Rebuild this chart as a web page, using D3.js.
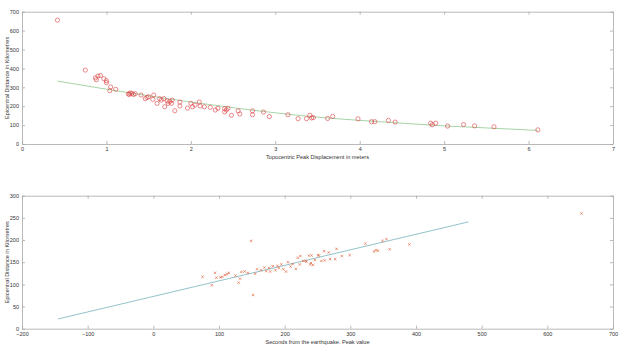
<!DOCTYPE html>
<html>
<head>
<meta charset="utf-8">
<script src="https://cdn.jsdelivr.net/npm/d3@7"></script>
<style>
  body { margin: 0; background: #fff; }
  svg text { font-family: "Liberation Sans", Arial, sans-serif; fill: #333; }
</style>
</head>
<body>
<svg id="chart" width="624" height="349"></svg>
<script>
// top plot: peak displacement (m) vs epicentral distance (km)
var dispX = [0.42, 0.75, 0.88, 0.9, 0.93, 0.87, 0.97, 1.0, 1.0, 1.05, 1.04, 1.11,
  1.26, 1.28, 1.3, 1.32, 1.34, 1.27, 1.41, 1.46, 1.48, 1.5, 1.56, 1.55, 1.6, 1.63,
  1.65, 1.68, 1.69, 1.72, 1.73, 1.75, 1.77, 1.78, 1.81, 1.87, 1.87, 1.96, 2.0, 2.02,
  2.05, 2.1, 2.11, 2.16, 2.23, 2.29, 2.32, 2.4, 2.42, 2.44, 2.4, 2.48, 2.56, 2.58,
  2.73, 2.73, 2.86, 2.93, 3.15, 3.27, 3.37, 3.41, 3.43, 3.45, 3.62, 3.68, 3.98, 4.14,
  4.18, 4.34, 4.42, 4.84, 4.86, 4.9, 5.04, 5.23, 5.36, 5.59, 6.11]
var distY = [655, 391, 340, 360, 362, 350, 345, 325, 335, 302, 282, 289,
  265, 270, 268, 262, 266, 262, 259, 240, 246, 250, 259, 236, 215, 240,
  232, 240, 197, 227, 215, 225, 215, 232, 176, 201, 222, 190, 215, 197,
  206, 222, 201, 197, 194, 180, 189, 187, 180, 189, 170, 152, 175, 159,
  175, 155, 169, 145, 155, 134, 134, 152, 138, 140, 135, 146, 133, 118,
  118, 125, 116, 110, 102, 110, 95, 103, 96, 91, 75]
var fitX = [0.42, 1, 1.5, 2, 2.5, 3, 3.5, 4, 4.5, 5, 5.5, 6.11]
var fitY = [333, 290, 255, 222, 192, 165, 142, 125, 110, 96, 85, 72]

// bottom plot: seconds from earthquake vs epicentral distance (km)
var secX = [75, 89, 94, 96, 102, 105, 109, 112, 115, 125, 130, 132, 134, 139, 144,
  149, 152, 155, 158, 164, 169, 172, 176, 178, 182, 186, 189, 191, 195, 198,
  202, 205, 209, 212, 217, 220, 223, 224, 228, 232, 233, 237, 239, 240, 241,
  243, 246, 251, 252, 256, 260, 261, 267, 269, 277, 279, 287, 299, 323, 336,
  339, 342, 349, 355, 360, 390, 652]
var secY = [117, 98, 126, 115, 116, 117, 121, 123, 126, 120, 104, 113, 128, 129, 126,
  198, 76, 124, 134, 132, 138, 130, 137, 129, 141, 132, 142, 137, 145, 134,
  129, 150, 140, 146, 135, 160, 145, 164, 153, 153, 151, 165, 145, 148, 165,
  144, 155, 166, 165, 153, 175, 154, 172, 157, 157, 180, 164, 166, 192, 174,
  177, 176, 198, 202, 179, 190, 260]
var regX = [-145, 480]
var regY = [22, 241]

var topXTicks = [0, 1, 2, 3, 4, 5, 6, 7]
var topYTicks = [0, 100, 200, 300, 400, 500, 600, 700]
var botXTicks = [-200, -100, 0, 100, 200, 300, 400, 500, 600, 700]
var botYTicks = [0, 50, 100, 150, 200, 250, 300]

var svg = d3.select("#chart")
var fmt = d3.format("d")

function drawFrame(g, x, y, xt, yt, w, h, xlabel, ylabel) {
  var tick = 3
  g.append("g")
    .attr("transform", "translate(0," + h + ")")
    .call(d3.axisBottom(x).tickValues(xt).tickFormat(fmt).tickSize(-tick).tickSizeOuter(0).tickPadding(3))
  g.append("g")
    .call(d3.axisTop(x).tickValues(xt).tickSize(-tick).tickSizeOuter(0).tickFormat(""))
  g.append("g")
    .call(d3.axisLeft(y).tickValues(yt).tickFormat(fmt).tickSize(-tick).tickSizeOuter(0).tickPadding(3))
  g.append("g")
    .attr("transform", "translate(" + w + ",0)")
    .call(d3.axisRight(y).tickValues(yt).tickSize(-tick).tickSizeOuter(0).tickFormat(""))
  g.selectAll(".domain").attr("stroke", "#a8a8a8").attr("stroke-width", 0.8)
  g.selectAll(".tick line").attr("stroke", "#a8a8a8").attr("stroke-width", 0.8)
  g.selectAll(".tick text").style("font-size", "5.5px").style("fill", "#333")

  g.append("text")
    .attr("x", w / 2)
    .attr("y", h + 15)
    .attr("text-anchor", "middle")
    .style("font-size", "5.6px")
    .text(xlabel)
  g.append("text")
    .attr("transform", "rotate(-90)")
    .attr("x", -h / 2)
    .attr("y", -13)
    .attr("text-anchor", "middle")
    .style("font-size", "5.6px")
    .text(ylabel)
}

// ---- top plot ----
var w1 = 591, h1 = 132.3
var g1 = svg.append("g").attr("transform", "translate(22,11.7)")
var x1 = d3.scaleLinear().domain([0, 7]).range([0, w1])
var y1 = d3.scaleLinear().domain([0, 700]).range([h1, 0])
drawFrame(g1, x1, y1, topXTicks, topYTicks, w1, h1,
  "Topocentric Peak Displacement in meters", "Epicentral Distance in Kilometres")

g1.append("path")
  .datum(d3.range(fitX.length))
  .attr("fill", "none")
  .attr("stroke", "#9ccf9c")
  .attr("stroke-width", 0.9)
  .attr("d", d3.line().curve(d3.curveMonotoneX)
    .x(function (i) { return x1(fitX[i]) })
    .y(function (i) { return y1(fitY[i]) }))

g1.selectAll("circle.pt")
  .data(d3.range(dispX.length))
  .enter()
  .append("circle")
  .attr("class", "pt")
  .attr("cx", function (i) { return x1(dispX[i]) })
  .attr("cy", function (i) { return y1(distY[i]) })
  .attr("r", 2.1)
  .attr("fill", "none")
  .attr("stroke", "#dd3c40")
  .attr("stroke-opacity", 0.75)
  .attr("stroke-width", 0.8)

// ---- bottom plot ----
var w2 = 591, h2 = 133
var g2 = svg.append("g").attr("transform", "translate(22,195.7)")
var x2 = d3.scaleLinear().domain([-200, 700]).range([0, w2])
var y2 = d3.scaleLinear().domain([0, 300]).range([h2, 0])
drawFrame(g2, x2, y2, botXTicks, botYTicks, w2, h2,
  "Seconds from the earthquake. Peak value", "Epicentral Distance in Kilometres")

g2.append("line")
  .attr("x1", x2(regX[0])).attr("y1", y2(regY[0]))
  .attr("x2", x2(regX[1])).attr("y2", y2(regY[1]))
  .attr("stroke", "#86bcc4")
  .attr("stroke-width", 0.9)

var s = 1.2
var marks = g2.selectAll("g.xm")
  .data(d3.range(secX.length))
  .enter()
  .append("g")
  .attr("class", "xm")
  .attr("transform", function (i) { return "translate(" + x2(secX[i]) + "," + y2(secY[i]) + ")" })
marks.append("path")
  .attr("d", "M" + (-s) + "," + (-s) + "L" + s + "," + s + "M" + (-s) + "," + s + "L" + s + "," + (-s))
  .attr("stroke", "#e0603a")
  .attr("stroke-width", 0.8)
  .attr("stroke-opacity", 0.8)
</script>
</body>
</html>
